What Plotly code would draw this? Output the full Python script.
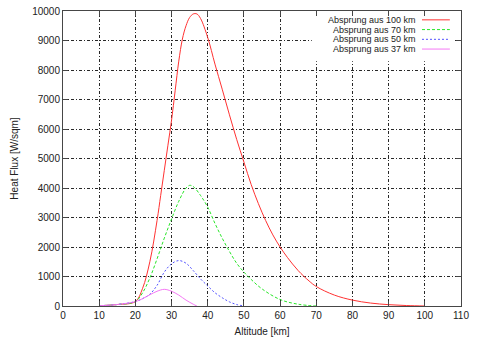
import plotly.graph_objects as go

# Altitude grid (km) and heat flux (W/sqm) for each jump altitude
alt_100 = [10, 15, 20, 22, 24, 26, 27, 28, 29, 30, 31, 32, 33, 34, 35, 36, 37, 38, 40, 42, 44,
           46, 48, 50, 52, 54, 56, 58, 60, 62, 65, 68, 70, 75, 80, 85, 90, 95, 100]
flux_100 = [10, 50, 150, 600, 1500, 2900, 3750, 4600, 5450, 6300, 7300, 8300, 9050, 9500, 9780,
            9900, 9900, 9750, 9100, 8200, 7350, 6480, 5650, 4880, 4120, 3470, 2900, 2410, 2000,
            1650, 1200, 850, 660, 370, 200, 100, 45, 15, 0]

alt_70 = [10, 15, 20, 22, 24, 26, 28, 30, 32, 34, 35, 36, 38, 40, 42, 44, 46, 48, 50, 52, 55,
          60, 65, 70]
flux_70 = [10, 50, 150, 450, 950, 1600, 2300, 2950, 3550, 4000, 4090, 4050, 3750, 3350, 2800,
           2300, 1850, 1450, 1150, 900, 580, 220, 60, 0]

alt_50 = [10, 15, 20, 22, 24, 26, 28, 30, 32, 34, 36, 38, 40, 42, 44, 46, 48, 50]
flux_50 = [10, 50, 150, 250, 400, 700, 1150, 1430, 1540, 1450, 1200, 920, 680, 450, 280, 140,
           50, 0]

alt_37 = [10, 15, 20, 22, 24, 26, 28, 30, 32, 34, 36, 37]
flux_37 = [10, 50, 150, 250, 380, 500, 565, 500, 370, 200, 60, 0]

names = ["Absprung aus 100 km", "Absprung aus 70 km", "Absprung aus 50 km", "Absprung aus 37 km"]
colors = ["rgb(255,50,50)", "rgb(40,230,40)", "rgb(80,80,255)", "rgb(245,120,245)"]
dashes = ["solid", "3px,2px", "2px,2px", "solid"]

x_ticks = list(range(0, 111, 10))
y_ticks = list(range(0, 10001, 1000))

series = [(alt_100, flux_100), (alt_70, flux_70), (alt_50, flux_50), (alt_37, flux_37)]

fig = go.Figure()
for (xs, ys), name, col, dash in zip(series, names, colors, dashes):
    fig.add_trace(go.Scatter(x=xs, y=ys, mode="lines", name=name, line_shape="spline",
                             line=dict(color=col, width=1, dash=dash), showlegend=False))

font = dict(family="Liberation Sans, Arial, sans-serif", size=10, color="#222")
axis_common = dict(showgrid=True, gridcolor="rgb(40,40,40)", gridwidth=1,
                   griddash="3px,2px,1px,2px", showline=True, linecolor="rgb(70,70,70)",
                   linewidth=1, mirror="allticks", ticks="inside", ticklen=5,
                   tickcolor="rgb(70,70,70)", zeroline=False, tickfont=font, tickformat="d",
                   automargin=False)

fig.update_xaxes(range=[0, 110], tickvals=x_ticks, title=dict(text="Altitude [km]", font=font,
                 standoff=7), **axis_common)
fig.update_yaxes(range=[0, 10000], tickvals=y_ticks, title=dict(text="Heat Flux [W/sqm]",
                 font=font, standoff=11), **axis_common)

# Key box in the upper right corner, covering the grid behind the entries
fig.add_shape(type="rect", xref="paper", yref="paper", x0=0.625, x1=0.985, y0=0.830, y1=0.983,
              fillcolor="white", line=dict(width=0), layer="above")
row_y = [0.970, 0.937, 0.904, 0.871]
for name, col, dash, yy in zip(names, colors, dashes, row_y):
    fig.add_annotation(xref="paper", yref="paper", x=0.889, y=yy, text=name, showarrow=False,
                       xanchor="right", yanchor="middle", borderpad=0,
                       font=dict(family=font["family"], size=9, color="#222"))
    fig.add_shape(type="line", xref="paper", yref="paper", x0=0.902, x1=0.972, y0=yy, y1=yy,
                  line=dict(color=col, width=1, dash=dash), layer="above")

fig.update_layout(width=480, height=346, margin=dict(l=63, r=19, t=11, b=40),
                  paper_bgcolor="white", plot_bgcolor="white", font=font)

fig.write_html("out.html")
